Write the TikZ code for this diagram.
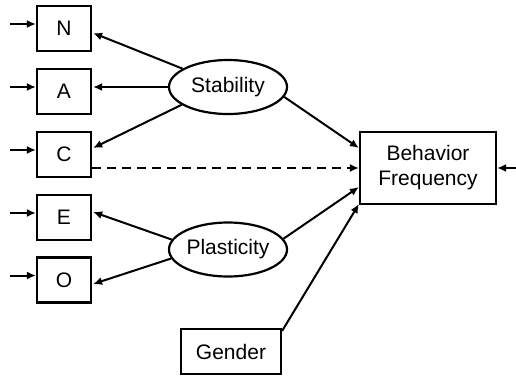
\documentclass[tikz,border=0pt]{standalone}
\usepackage{fontspec}
\setmainfont{Liberation Sans}
\usetikzlibrary{arrows.meta,shapes.geometric,calc}
\begin{document}
\begin{tikzpicture}[x=1pt,y=-1pt,
  every node/.style={font=\fontsize{21}{25}\selectfont},
  vbox/.style={draw,line width=2.2pt,inner sep=0pt,minimum width=54pt,minimum height=45pt},
  latent/.style={draw,ellipse,line width=2.2pt,inner sep=0pt,minimum width=118pt,minimum height=54pt},
  bigbox/.style={draw,line width=2.2pt,inner sep=0pt,minimum width=136pt,minimum height=72pt,align=center},
  arr/.style={line width=2pt,-{Latex[length=9pt,width=8pt]}},
  darr/.style={arr,dash pattern=on 9pt off 6pt}]
\useasboundingbox (0,0) rectangle (516,376);
\node[vbox] (N) at (64,28.5) {N};
\node[vbox] (A) at (64,91.5) {A};
\node[vbox] (C) at (64,154.5) {C};
\node[vbox] (E) at (64,217.5) {E};
\node[vbox] (O) at (64,280) {O};
\node[latent] (stab) at (228,87) {Stability};
\node[latent] (plast) at (228,249.5) {Plasticity};
\node[bigbox] (bf) at (428,168) {Behavior\\Frequency};
\node[vbox,minimum width=100pt] (gen) at (231,351.5) {Gender};
% incoming error arrows
\coordinate (eN) at (10,24);
\coordinate (eA) at (10,87);
\coordinate (eC) at (10,150);
\coordinate (eE) at (10,213);
\coordinate (eO) at (10,275.5);
\coordinate (eB) at (516,168);
\draw[arr] (eN) -- (eN -| N.west);
\draw[arr] (eA) -- (eA -| A.west);
\draw[arr] (eC) -- (eC -| C.west);
\draw[arr] (eE) -- (eE -| E.west);
\draw[arr] (eO) -- (eO -| O.west);
\draw[arr] (eB) -- (bf.east);
% loadings
\draw[arr] (stab.158.6) -- ($(N.east)+(1,4.5)$);
\draw[arr] (stab.west) -- ($(A.east)+(1,-4.5)$);
\draw[arr] (stab.201.4) -- ($(C.east)+(1,-6.5)$);
\draw[arr] (plast.170) -- ($(E.east)+(1,-5.5)$);
\draw[arr] (plast.189) -- ($(O.east)+(1,4)$);
% structural paths
\draw[arr] (stab.-10) -- ($(bf.west)+(0,-20)$);
\draw[darr] ($(C.east)+(0,13.5)$) -- (bf.west);
\draw[arr] (plast.11.6) -- ($(bf.west)+(0,19)$);
\draw[arr] ($(gen.north east)+(0,3)$) -- ($(bf.south west)+(0,-1)$);
\end{tikzpicture}
\end{document}
